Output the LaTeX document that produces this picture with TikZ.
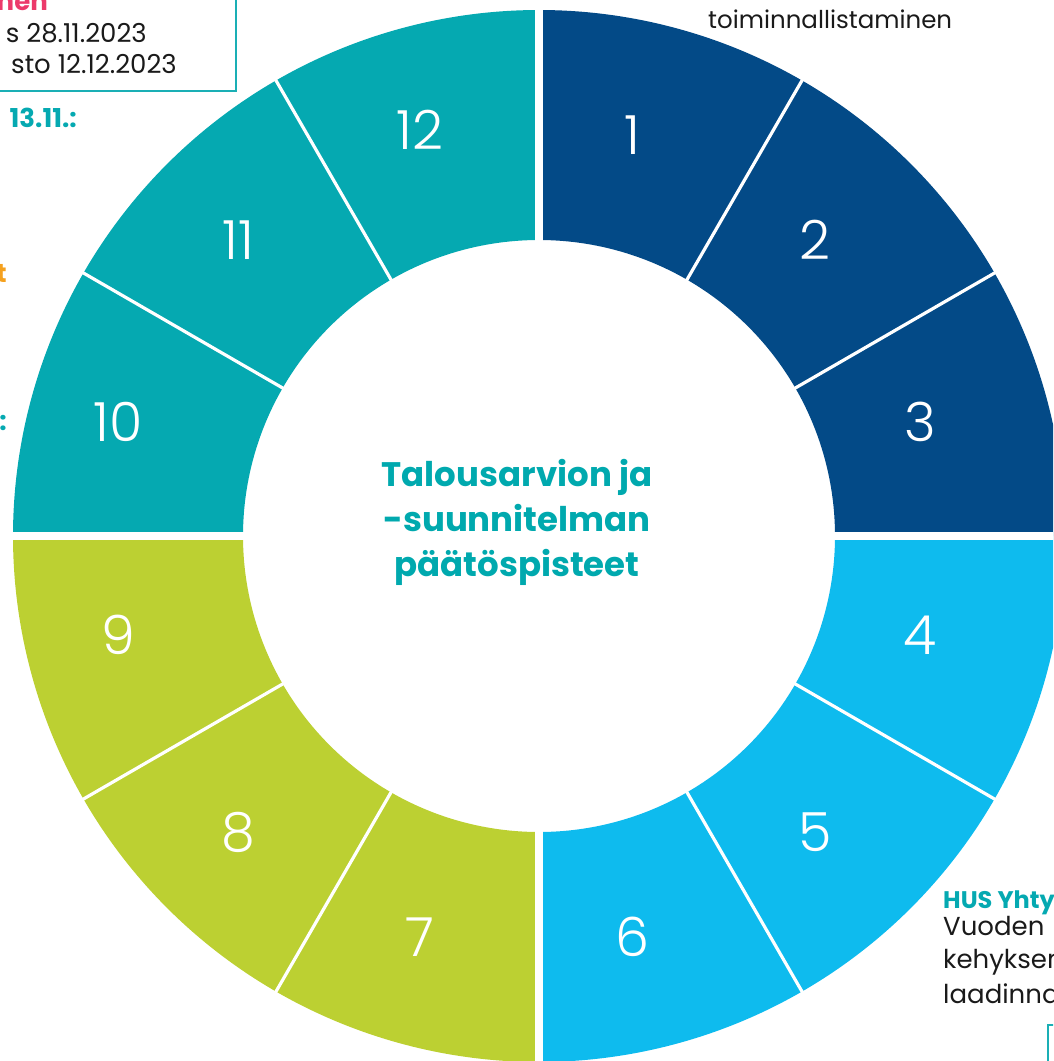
\documentclass[tikz,border=0pt]{standalone}
\usepackage{fontspec}
\setmainfont{Poppins}
\newfontfamily\numfont{Poppins}[UprightFont=* Light]
\usetikzlibrary{calc}
\definecolor{dblue}{HTML}{034A87}
\definecolor{lblue}{HTML}{0EBBEE}
\definecolor{limec}{HTML}{BCD032}
\definecolor{tealc}{HTML}{05A9B1}
\definecolor{titlec}{HTML}{00A9AE}
\definecolor{pinkc}{HTML}{EC3A6B}
\definecolor{orangec}{HTML}{F5A11F}
\definecolor{boxc}{HTML}{1AAFB5}
\definecolor{txt}{HTML}{1A1A1A}
\tikzset{
  num/.style={text=white, font=\numfont\fontsize{54}{60}\selectfont, inner sep=0pt},
  body/.style={text=txt, font=\fontsize{26}{32}\selectfont, inner sep=0pt},
  head/.style={font=\fontsize{26}{32}\selectfont\bfseries, inner sep=0pt},
}
\begin{document}
\begin{tikzpicture}[x=1pt,y=1pt]
\useasboundingbox (0,0) rectangle (1053,-1061);
\clip (0,0) rectangle (1053,-1061);
\coordinate (C) at (539,-536);
% ring sectors
\foreach \a/\b/\c in {90/60/dblue,60/30/dblue,30/0/dblue,0/-30/lblue,-30/-60/lblue,-60/-90/lblue,270/240/limec,240/210/limec,210/180/limec,180/150/tealc,150/120/tealc,120/90/tealc}{
  \fill[\c] ($(C)+(\a:526)$) arc[start angle=\a,end angle=\b,radius=526] -- ($(C)+(\b:296)$) arc[start angle=\b,end angle=\a,radius=296] -- cycle;
}
% gaps
\foreach \a in {60,30,-30,-60,240,210,150,120}{
  \draw[white, line width=3.2] ($(C)+(\a:290)$) -- ($(C)+(\a:540)$);
}
\foreach \a in {0,90,180,270}{
  \draw[white, line width=8] ($(C)+(\a:290)$) -- ($(C)+(\a:540)$);
}
% numbers
\node[num] (n1) at (632,-135) {1};
\node[num] (n2) at (815,-240) {2};
\node[num] (n3) at (920,-422) {3};
\node[num] (n4) at (920,-635) {4};
\node[num] (n5) at (815,-832) {5};
\node[num] (n6) at (632,-937) {6};
\node[num] (n7) at (420,-937) {7};
\node[num] (n8) at (238,-832) {8};
\node[num] (n9) at (118,-635) {9};
\node[num] (n10) at (118,-422) {10};
\node[num] (n11) at (238,-240) {11};
\node[num] (n12) at (420,-130) {12};
% title
\node[text=titlec, font=\fontsize{34}{45}\selectfont\bfseries, align=center] (title) at (517,-522)
  {Talousarvion ja\\-suunnitelman\\päätöspisteet};
% top-left box
\draw[boxc, line width=1.5] (-5,5) rectangle (236,-91);
\node[head, text=pinkc, anchor=base east] (tl0) at (48,-10) {nen};
\node[body, anchor=base east] (tl1) at (147,-42) {s 28.11.2023};
\node[body, anchor=base east] (tl2) at (177,-73) {sto 12.12.2023};
\node[head, text=tealc, anchor=base east] (tl3) at (77,-127) {13.11.:};
\node[head, text=orangec, anchor=base east] (tl4) at (7,-282) {t};
\node[head, text=tealc, anchor=base east] (tl5) at (7,-430) {:};
% top right
\node[body, font=\fontsize{24.5}{30}\selectfont, anchor=base west] (tr1) at (708,-28) {toiminnallistaminen};
% bottom right
\node[head, font=\fontsize{24}{30}\selectfont\bfseries, text=tealc, anchor=base west] (br0) at (943,-908) {HUS Yhty};
\node[body, anchor=base west] (br1) at (943,-935) {Vuoden};
\node[body, anchor=base west] (br2) at (943,-968) {kehyksen};
\node[body, anchor=base west] (br3) at (943,-1003) {laadinna};
\draw[boxc, line width=1.5] (1048,-1070) |- (1060,-1025);
\end{tikzpicture}
\end{document}
